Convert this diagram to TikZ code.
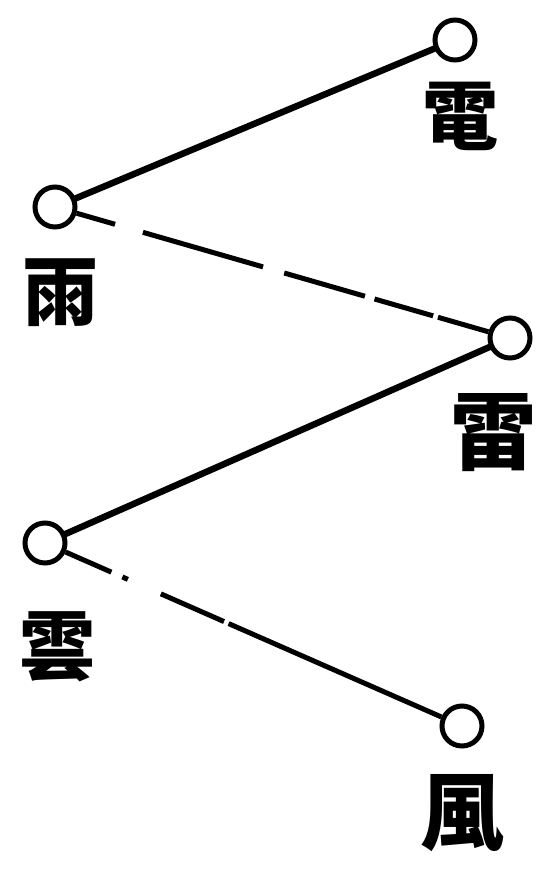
\documentclass[tikz,border=0pt]{standalone}
\usepackage{fontspec}
\newfontfamily\cjk{Noto Sans CJK TC}
\begin{document}
\begin{tikzpicture}[x=1pt,y=-1pt,
  ring/.style={circle,draw,line width=5pt,minimum size=40pt,inner sep=0pt},
  conn/.style={line width=6.5pt,line cap=round},
  brk/.style={line width=5pt},
  lbl/.style={font=\cjk\bfseries\fontsize{76}{76}\selectfont,inner sep=0pt}]
\useasboundingbox (0,0) rectangle (538,875);
\node[ring] (dianc) at (455,40) {};
\node[ring] (yuc) at (55,207) {};
\node[ring] (leic) at (510,338) {};
\node[ring] (yunc) at (45,543) {};
\node[ring] (fengc) at (462,726) {};
\node[lbl] (dian) at (460,116) {電};
\node[lbl] (yu) at (60,293) {雨};
\node[lbl,font=\cjk\bfseries\fontsize{86}{86}\selectfont] (lei) at (493,433) {雷};
\node[lbl] (yun) at (57,647) {雲};
\node[lbl,font=\cjk\bfseries\fontsize{84}{84}\selectfont] (feng) at (462,813) {風};
\draw[conn] (yuc) -- (dianc);
\draw[conn] (yunc) -- (leic);
\draw[brk,dash pattern=on 40pt off 29pt on 125pt off 22pt on 84pt off 10pt on 61pt off 5pt on 300pt] (yuc) -- (leic);
\draw[brk,dash pattern=on 50pt off 12pt on 6pt off 36pt on 69pt off 5pt on 400pt] (yunc) -- (fengc);
\end{tikzpicture}
\end{document}
